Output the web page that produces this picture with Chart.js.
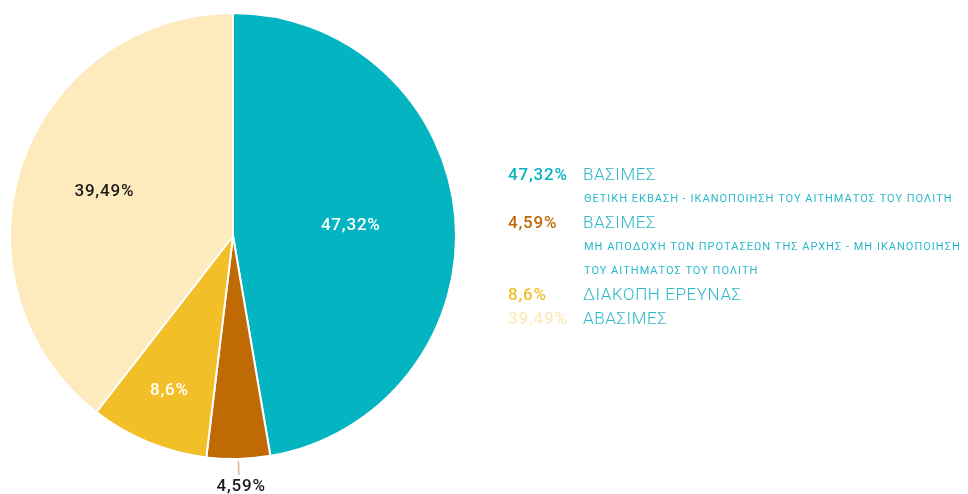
<!DOCTYPE html>
<html>
<head>
<meta charset="utf-8">
<script src="https://cdn.jsdelivr.net/npm/chart.js@4"></script>
<style>
  body { margin: 0; background: #fff; font-family: Roboto, sans-serif; }
  #wrap { position: relative; width: 968px; height: 494px; }
  #chart { position: absolute; left: 0; top: 0; }
  #legend { position: absolute; left: 508px; top: 162px; }
  .row { display: flex; align-items: center; height: 24px; }
  .pct { width: 75px; font-weight: 500; font-size: 17px; letter-spacing: 0.8px; }
  .name { color: #2ab9c9; font-size: 17px; letter-spacing: 0.6px; font-weight: 300; }
  .sub { color: #2ab9c9; font-size: 11px; padding-left: 76px; height: 24px; display: flex; align-items: center; letter-spacing: 1px; }
</style>
</head>
<body>
<div id="wrap">
  <canvas id="chart" width="968" height="494"></canvas>
  <div id="legend"></div>
</div>
<script>
const CHART = document.getElementById("chart");

var names = ['ΒΑΣΙΜΕΣ', 'ΒΑΣΙΜΕΣ', 'ΔΙΑΚΟΠΗ ΕΡΕΥΝΑΣ', 'ΑΒΑΣΙΜΕΣ'];
var subtitles = [
    ['ΘΕΤΙΚΗ ΕΚΒΑΣΗ - ΙΚΑΝΟΠΟΙΗΣΗ ΤΟΥ ΑΙΤΗΜΑΤΟΣ ΤΟΥ ΠΟΛΙΤΗ'],
    ['ΜΗ ΑΠΟΔΟΧΗ ΤΩΝ ΠΡΟΤΑΣΕΩΝ ΤΗΣ ΑΡΧΗΣ - ΜΗ ΙΚΑΝΟΠΟΙΗΣΗ', 'ΤΟΥ ΑΙΤΗΜΑΤΟΣ ΤΟΥ ΠΟΛΙΤΗ'],
    [],
    []
];
var values = [47.32, 4.59, 8.6, 39.49];
var colors = ['#05b4c1', '#c06a05', '#f2bf29', '#fdebbe'];
var labelColors = ['#ffffff', '#1a1a1a', '#ffffff', '#1a1a1a'];

function fmt(v) {
    return String(v).replace('.', ',') + '%';
}

// legend as html text
var legend = document.getElementById('legend');
for (let i = 0; i < names.length; i++) {
    var row = document.createElement('div');
    row.className = 'row';
    row.innerHTML = '<span class="pct" style="color:' + colors[i] + '">' + fmt(values[i]) + '</span><span class="name">' + names[i] + '</span>';
    legend.appendChild(row);
    subtitles[i].forEach(function (s) {
        var sub = document.createElement('div');
        sub.className = 'sub';
        sub.textContent = s;
        legend.appendChild(sub);
    });
}

// value labels on the slices, small slice gets a leader line outside
const sliceLabels = {
    id: 'sliceLabels',
    afterDatasetsDraw(chart) {
        const ctx = chart.ctx;
        const meta = chart.getDatasetMeta(0);
        const inner = [0.53, 0, 0.75, 0.61];
        ctx.save();
        ctx.font = '500 17px Roboto';
        ctx.letterSpacing = '0.8px';
        ctx.textAlign = 'center';
        ctx.textBaseline = 'middle';
        meta.data.forEach(function (arc, i) {
            const a = (arc.startAngle + arc.endAngle) / 2;
            const r = arc.outerRadius;
            if (values[i] < 5) {
                ctx.strokeStyle = '#e0b488';
                ctx.lineWidth = 1.5;
                ctx.beginPath();
                ctx.moveTo(arc.x + Math.cos(a) * (r + 2), arc.y + Math.sin(a) * (r + 2));
                ctx.lineTo(arc.x + Math.cos(a) * (r + 16), arc.y + Math.sin(a) * (r + 16));
                ctx.stroke();
                ctx.fillStyle = '#1a1a1a';
                ctx.fillText(fmt(values[i]), arc.x + Math.cos(a) * (r + 28) + 2, arc.y + Math.sin(a) * (r + 28));
            } else {
                ctx.fillStyle = labelColors[i];
                ctx.fillText(fmt(values[i]), arc.x + Math.cos(a) * r * inner[i], arc.y + Math.sin(a) * r * inner[i]);
            }
        });
        ctx.restore();
    }
};

const chart = new Chart(CHART, {
    type: 'pie',
    data: {
        labels: names,
        datasets: [{
            data: values,
            backgroundColor: colors,
            borderColor: '#ffffff',
            borderWidth: 2
        }]
    },
    options: {
        responsive: false,
        animation: false,
        layout: { padding: { left: 9, right: 511, top: 12, bottom: 34 } },
        plugins: {
            legend: { display: false },
            tooltip: { enabled: false }
        }
    },
    plugins: [sliceLabels]
});
</script>
</body>
</html>
